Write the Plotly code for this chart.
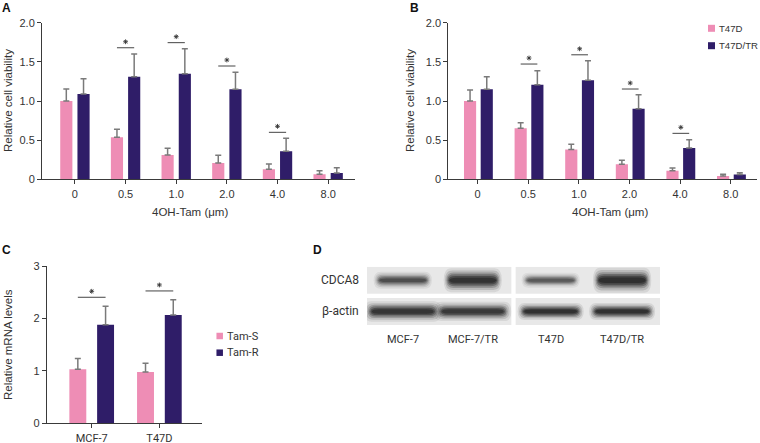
import plotly.graph_objects as go

W, H = 760, 443

# ---------------- data ----------------
dose_labels = ["0", "0.5", "1.0", "2.0", "4.0", "8.0"]

A_t47d = [1.00, 0.536, 0.31, 0.209, 0.128, 0.064]
A_t47d_err = [0.153, 0.102, 0.086, 0.097, 0.068, 0.046]
A_tr = [1.089, 1.31, 1.349, 1.149, 0.357, 0.081]
A_tr_err = [0.196, 0.29, 0.319, 0.217, 0.166, 0.068]
A_sig_groups = [1, 2, 3, 4]
A_sig_heights = [1.68, 1.745, 1.447, 0.60]

B_t47d = [1.00, 0.651, 0.379, 0.191, 0.11, 0.043]
B_t47d_err = [0.14, 0.072, 0.068, 0.052, 0.035, 0.021]
B_tr = [1.149, 1.209, 1.264, 0.902, 0.40, 0.06]
B_tr_err = [0.161, 0.178, 0.251, 0.179, 0.106, 0.025]
B_sig_groups = [1, 2, 3, 4]
B_sig_heights = [1.472, 1.59, 1.153, 0.587]
B_names = ["T47D", "T47D/TR"]

C_lines = ["MCF-7", "T47D"]
C_tams = [1.032, 0.981]
C_tams_err = [0.204, 0.165]
C_tamr = [1.885, 2.07]
C_tamr_err = [0.351, 0.293]
C_sig_groups = [0, 1]
C_sig_heights = [2.408, 2.529]
C_names = ["Tam-S", "Tam-R"]

D_lanes = ["MCF-7", "MCF-7/TR", "T47D", "T47D/TR"]
D_lane_pos = [0.5, 1.48, 2.57, 3.57]
D_cdca8_intensity = [0.62, 0.88, 0.55, 0.92]
D_cdca8_thickness = [0.30, 0.42, 0.26, 0.44]
D_actin_intensity = [0.85, 0.8, 0.9, 0.9]
D_actin_thickness = [0.36, 0.34, 0.30, 0.30]

PINK = "#ee8db5"
NAVY = "#2f1d68"
ERR = "#7a7a7a"
AX = "#3a3a3a"
FONT = "Liberation Sans, Arial, sans-serif"
FONT2 = "Roboto, Noto Sans, sans-serif"

fig = go.Figure()


def px_x(p):
    return p / W


def px_y(p):
    return 1 - p / H


def add_bars(xa, ya, vals1, err1, vals2, err2, names, width, off1, off2):
    xs = list(range(len(vals1)))
    for vals, err, name, col, off in [(vals1, err1, names[0], PINK, off1), (vals2, err2, names[1], NAVY, off2)]:
        fig.add_trace(go.Bar(
            x=xs, y=vals, width=width, offset=off, name=name,
            marker=dict(color=col, line=dict(width=0)),
            error_y=dict(type="data", array=err, arrayminus=[0] * len(err), symmetric=False,
                         color=ERR, thickness=1.5, width=3),
            xaxis=xa, yaxis=ya, showlegend=False, hoverinfo="skip"))


def add_sig(xa, ya, groups, heights, c1, c2, star_px, yspan_px, yspan_val):
    for g, h in zip(groups, heights):
        fig.add_trace(go.Scatter(x=[g + c1, g + c2], y=[h, h], mode="lines",
                                 line=dict(color="#444", width=1), xaxis=xa, yaxis=ya,
                                 showlegend=False, hoverinfo="skip"))
    fig.add_trace(go.Scatter(
        x=[g + (c1 + c2) / 2 for g in groups],
        y=[h + star_px * yspan_val / yspan_px for h in heights],
        mode="markers",
        marker=dict(symbol="asterisk-open", size=4, color="#333", line=dict(color="#333", width=0.9)),
        xaxis=xa, yaxis=ya, showlegend=False, hoverinfo="skip"))


def add_legend(names, sq_x, ys, size, text_x, fsize, family):
    for name, col, y in zip(names, [PINK, NAVY], ys):
        fig.add_shape(type="rect", xref="paper", yref="paper",
                      x0=px_x(sq_x - size / 2), x1=px_x(sq_x + size / 2),
                      y0=px_y(y + size / 2), y1=px_y(y - size / 2),
                      fillcolor=col, line=dict(width=0))
        fig.add_annotation(xref="paper", yref="paper", x=px_x(text_x), y=px_y(y), text=name,
                           showarrow=False, xanchor="left", yanchor="middle", borderpad=0,
                           font=dict(size=fsize, color="#333", family=family))


# Panel A
add_bars("x", "y", A_t47d, A_t47d_err, A_tr, A_tr_err, B_names, 0.24, -0.29, 0.05)
add_sig("x", "y", A_sig_groups, A_sig_heights, -0.17, 0.17, 6, 156.6, 2.0)
# Panel B
add_bars("x2", "y2", B_t47d, B_t47d_err, B_tr, B_tr_err, B_names, 0.24, -0.27, 0.06)
add_sig("x2", "y2", B_sig_groups, B_sig_heights, -0.15, 0.18, 6, 156.6, 2.0)
add_legend(B_names, 711.5, [28.3, 45.7], 7, 718, 9.6, FONT)
# Panel C
add_bars("x3", "y3", C_tams, C_tams_err, C_tamr, C_tamr_err, C_names, 0.25, -0.33, 0.08)
add_sig("x3", "y3", C_sig_groups, C_sig_heights, -0.205, 0.205, 6, 157, 3.0)
add_legend(C_names, 219.7, [336, 352.7], 6.5, 226, 11, FONT2)

axis_common = dict(showline=True, linecolor=AX, linewidth=1, ticks="outside", ticklen=4,
                   tickcolor=AX, tickwidth=1, showgrid=False, zeroline=False,
                   tickfont=dict(size=11, color="#333", family=FONT))

layout = dict(
    width=W, height=H, margin=dict(l=0, r=0, t=0, b=0, autoexpand=False),
    paper_bgcolor="white", plot_bgcolor="white", barmode="overlay", showlegend=False,
    font=dict(family=FONT, color="#333"),
    xaxis=dict(domain=[px_x(42), px_x(355)], range=[-0.65, 5.53], anchor="y",
               tickvals=list(range(6)), ticktext=dose_labels, **axis_common),
    yaxis=dict(domain=[px_y(179.3), px_y(22.7)], range=[0, 2.0], anchor="x",
               tickvals=[0, 0.5, 1.0, 1.5, 2.0], ticktext=["0", "0.5", "1.0", "1.5", "2.0"], **axis_common),
    xaxis2=dict(domain=[px_x(448.3), px_x(757)], range=[-0.58, 5.52], anchor="y2",
                tickvals=list(range(6)), ticktext=dose_labels, **axis_common),
    yaxis2=dict(domain=[px_y(179.3), px_y(22.7)], range=[0, 2.0], anchor="x2",
                tickvals=[0, 0.5, 1.0, 1.5, 2.0], ticktext=["0", "0.5", "1.0", "1.5", "2.0"], **axis_common),
    xaxis3=dict(domain=[px_x(46.7), px_x(202.3)], range=[-0.665, 1.634], anchor="y3",
                tickvals=[0, 1], ticktext=C_lines,
                **{**axis_common, "tickfont": dict(size=11, color="#333", family=FONT2)}),
    yaxis3=dict(domain=[px_y(423.3), px_y(266.3)], range=[0, 3], anchor="x3",
                tickvals=[0, 1, 2, 3], **axis_common),
    xaxis4=dict(domain=[px_x(367), px_x(660)], range=[0, 4.1], anchor="y4", visible=False),
    yaxis4=dict(domain=[px_y(325), px_y(266.7)], range=[0, 2.15], anchor="x4", visible=False),
)
fig.update_layout(**layout)

# axis titles & panel letters
ann = []
ann.append(dict(text="Relative cell viability", x=px_x(8), y=px_y(101), textangle=-90))
ann.append(dict(text="Relative cell viability", x=px_x(410), y=px_y(101), textangle=-90))
ann.append(dict(text="Relative mRNA levels", x=px_x(8), y=px_y(345), textangle=-90))
ann.append(dict(text="4OH-Tam (μm)", x=px_x(190), y=px_y(212)))
ann.append(dict(text="4OH-Tam (μm)", x=px_x(610), y=px_y(212)))
for a in ann:
    fig.add_annotation(xref="paper", yref="paper", showarrow=False, xanchor="center", yanchor="middle",
                       font=dict(size=11.5, color="#333", family=FONT), **a)

for letter, x, y in [("A", 7, 8), ("B", 414, 8), ("C", 7, 250), ("D", 317, 250)]:
    fig.add_annotation(xref="paper", yref="paper", x=px_x(x), y=px_y(y), text="<b>%s</b>" % letter,
                       showarrow=False, xanchor="center", yanchor="middle",
                       font=dict(size=12, color="#111", family=FONT))

# Panel D: blot membranes and bands
MEM = "#e8e8e8"
for x0, x1 in [(0, 2.02), (2.08, 4.1)]:
    for y0, y1 in [(0, 1), (1.15, 2.15)]:
        fig.add_shape(type="rect", xref="x4", yref="y4", x0=x0, x1=x1, y0=y0, y1=y1,
                      fillcolor=MEM, line=dict(width=0), layer="below")


def band_path(xc, yc, w, h):
    x0, x1 = xc - w / 2, xc + w / 2
    y0, y1 = yc - h / 2, yc + h / 2
    r = min(0.1, w / 4)
    return ("M %f,%f L %f,%f Q %f,%f %f,%f Q %f,%f %f,%f L %f,%f Q %f,%f %f,%f Q %f,%f %f,%f Z" %
            (x0 + r, y0, x1 - r, y0, x1, y0, x1, yc, x1, y1, x1 - r, y1,
             x0 + r, y1, x0, y1, x0, yc, x0, y0, x0 + r, y0))


BAND_LAYERS = [(1.10, 2.1, 0.10), (1.05, 1.7, 0.16), (1.0, 1.35, 0.24),
               (0.96, 1.05, 0.34), (0.92, 0.75, 0.45), (0.88, 0.45, 0.5)]


def draw_band(xc, yc, w, h, inten):
    for sw, sh, a in BAND_LAYERS:
        fig.add_shape(type="path", xref="x4", yref="y4", path=band_path(xc, yc, w * sw, h * sh),
                      fillcolor="rgba(20,20,20,%.3f)" % (a * inten), line=dict(width=0))


for i, xc in enumerate(D_lane_pos):
    draw_band(xc, 1.65, 0.74, D_cdca8_thickness[i], D_cdca8_intensity[i])
    wa = 0.98 if i < 2 else 0.84
    draw_band(xc, 0.5, wa, D_actin_thickness[i], D_actin_intensity[i])

for lab, xc in zip(D_lanes, D_lane_pos):
    fig.add_annotation(xref="x4", yref="paper", x=xc, y=px_y(339), text=lab, showarrow=False,
                       xanchor="center", yanchor="middle",
                       font=dict(size=11, color="#333", family=FONT2))
for lab, yc in [("CDCA8", 1.65), ("β-actin", 0.5)]:
    fig.add_annotation(xref="paper", yref="y4", x=px_x(361), y=yc, text=lab, showarrow=False,
                       xanchor="right", yanchor="middle",
                       font=dict(size=12, color="#333", family=FONT2))

fig.write_html("out.html", config={"displayModeBar": False, "staticPlot": True},
               post_script="document.body.style.margin='0';document.body.style.overflow='hidden';")
